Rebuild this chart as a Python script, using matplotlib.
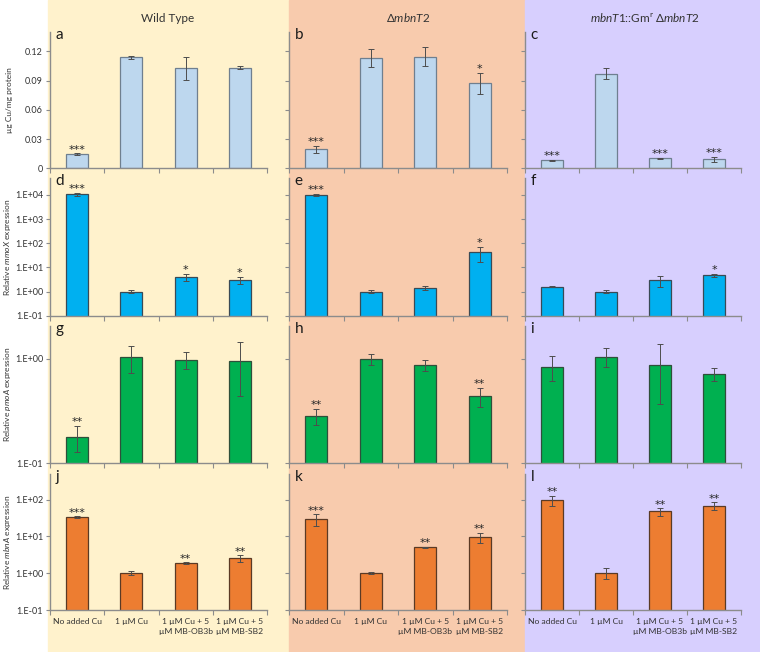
import numpy as np
import matplotlib
matplotlib.use('Agg')
import matplotlib.pyplot as plt
from matplotlib.patches import Rectangle
from matplotlib.ticker import FixedLocator, FuncFormatter, NullLocator

plt.rcParams['font.family'] = ['Lato', 'DejaVu Sans']
plt.rcParams['mathtext.fontset'] = 'custom'
plt.rcParams['mathtext.rm'] = 'Lato'
plt.rcParams['mathtext.it'] = 'Lato:italic'

categories = ['No added Cu', '1 µM Cu', '1 µM Cu + 5\nµM MB-OB3b', '1 µM Cu + 5\nµM MB-SB2']
strains = ['Wild Type', r'Δ$\it{mbnT2}$', r'$\it{mbnT1}$::Gm$^{\rm r}$ Δ$\it{mbnT2}$']

# copper uptake (ug Cu / mg protein)
cu_wt = [0.0147, 0.114, 0.1027, 0.1034]
cu_wt_err = [0.0008, 0.0018, 0.0116, 0.0018]
cu_t2 = [0.0195, 0.1133, 0.1147, 0.0873]
cu_t2_err = [0.0035, 0.0089, 0.0096, 0.0105]
cu_t1t2 = [0.0082, 0.0972, 0.0103, 0.0092]
cu_t1t2_err = [0.0006, 0.0055, 0.0006, 0.0028]

# relative mmoX expression
mmox_wt = [10700, 1.0, 4.1, 3.1]
mmox_wt_err = [1500, 0.15, 1.3, 1.0]
mmox_t2 = [10200, 1.0, 1.38, 44]
mmox_t2_err = [900, 0.12, 0.25, 28]
mmox_t1t2 = [1.6, 1.0, 3.0, 4.7]
mmox_t1t2_err = [0.03, 0.15, 1.5, 0.8]

# relative pmoA expression
pmoa_wt = [0.177, 1.03, 0.97, 0.94]
pmoa_wt_err = [0.05, 0.3, 0.18, 0.5]
pmoa_t2 = [0.283, 0.99, 0.865, 0.437]
pmoa_t2_err = [0.05, 0.12, 0.1, 0.09]
pmoa_t1t2 = [0.83, 1.045, 0.865, 0.71]
pmoa_t1t2_err = [0.22, 0.21, 0.5, 0.095]

# relative mbnA expression
mbna_wt = [33.6, 1.0, 1.88, 2.56]
mbna_wt_err = [2.0, 0.12, 0.12, 0.5]
mbna_t2 = [29.6, 1.0, 5.1, 9.6]
mbna_t2_err = [10, 0.05, 0.2, 2.8]
mbna_t1t2 = [98, 1.04, 48, 69.5]
mbna_t1t2_err = [30, 0.34, 11, 16]

stars = [
    [['***', '', '', ''], ['***', '', '', '*'], ['***', '', '***', '***']],
    [['***', '', '*', '*'], ['***', '', '', '*'], ['', '', '', '*']],
    [['**', '', '', ''], ['**', '', '', '**'], ['', '', '', '']],
    [['***', '', '**', '**'], ['***', '', '**', '**'], ['**', '', '**', '**']],
]

values = [
    [(cu_wt, cu_wt_err), (cu_t2, cu_t2_err), (cu_t1t2, cu_t1t2_err)],
    [(mmox_wt, mmox_wt_err), (mmox_t2, mmox_t2_err), (mmox_t1t2, mmox_t1t2_err)],
    [(pmoa_wt, pmoa_wt_err), (pmoa_t2, pmoa_t2_err), (pmoa_t1t2, pmoa_t1t2_err)],
    [(mbna_wt, mbna_wt_err), (mbna_t2, mbna_t2_err), (mbna_t1t2, mbna_t1t2_err)],
]

ylabels = ['µg Cu/mg protein', r'Relative $\it{mmoX}$ expression',
           r'Relative $\it{pmoA}$ expression', r'Relative $\it{mbnA}$ expression']
bar_colors = ['#BDD7EE', '#00B0F0', '#00B050', '#ED7D31']
edge_colors = ['#6F7F8F', '#3A4A55', '#2F4F3A', '#5A3A25']
ylims = [(0, 0.14), (0.1, 5e4), (0.1, 2.05), (0.1, 500)]
panel_letters = 'abcdefghijkl'

W, H = 760, 652
fig = plt.figure(figsize=(W / 100, H / 100), dpi=100)

# column backgrounds
bg_cols = ['#FFF2CC', '#F8CBAD', '#D7CFFE']
bg_x = [48, 289, 525, 760]
for k in range(3):
    fig.patches.append(Rectangle((bg_x[k] / W, 0), (bg_x[k + 1] - bg_x[k]) / W, 1,
                                 transform=fig.transFigure, color=bg_cols[k], zorder=-10))

col_left = [50, 289, 525]
col_w = [217, 218, 216]
row_top = [32, 178, 326, 474]
row_bot = [168.3, 315.7, 463.3, 610]

x = np.arange(4)
spine_c = '#8C8C8C'

for r in range(4):
    for c in range(3):
        ax = fig.add_axes([col_left[c] / W, 1 - row_bot[r] / H, col_w[c] / W,
                           (row_bot[r] - row_top[r]) / H])
        ax.patch.set_alpha(0)
        vals, errs = values[r][c]
        ax.bar(x, vals, width=0.41, color=bar_colors[r], edgecolor=edge_colors[r],
               linewidth=0.9, zorder=2)
        ax.errorbar(x, vals, yerr=errs, fmt='none', ecolor='#4D4D4D', elinewidth=0.7,
                    capsize=2, capthick=0.7, zorder=3)
        if r > 0:
            ax.set_yscale('log')
            ax.yaxis.set_minor_locator(NullLocator())
            ax.yaxis.set_major_formatter(FuncFormatter(
                lambda v, p: '1.E%+03d' % int(round(np.log10(v)))))
        else:
            ax.set_yticks([0, 0.03, 0.06, 0.09, 0.12])
            ax.yaxis.set_major_formatter(FuncFormatter(
                lambda v, p: '0' if v == 0 else ('%.2f' % v)))
        ax.set_ylim(*ylims[r])
        ax.set_xlim(-0.5, 3.5)

        for i in range(4):
            s = stars[r][c][i]
            if s:
                ax.annotate(s, (i, vals[i] + errs[i]), xytext=(0, -1),
                            textcoords='offset points', ha='center', va='bottom',
                            fontsize=8, color='#262626', family='DejaVu Sans')

        for side in ['top', 'right']:
            ax.spines[side].set_visible(False)
        for side in ['left', 'bottom']:
            ax.spines[side].set_color(spine_c)
            ax.spines[side].set_linewidth(1.0)

        ax.xaxis.set_major_locator(FixedLocator([-0.5, 0.5, 1.5, 2.5, 3.5]))
        ax.xaxis.set_major_formatter(FuncFormatter(lambda v, p: ''))
        ax.tick_params(axis='x', length=3.5, color=spine_c, width=0.8)
        ax.tick_params(axis='y', length=3, color=spine_c, width=0.8, labelsize=6.5,
                       pad=2, labelcolor='#333333')
        if c > 0:
            ax.set_yticklabels([])
        else:
            ax.set_ylabel(ylabels[r], fontsize=6, color='#333333')
            ax.yaxis.set_label_coords(-0.17, 0.5)

        if r == 3:
            ax.set_xticks(x, minor=True)
            ax.set_xticklabels(categories, minor=True, fontsize=6.1, color='#333333',
                               linespacing=1.45)
            ax.tick_params(axis='x', which='minor', length=0, pad=6)

        ax.text(0.025, 1.03, panel_letters[r * 3 + c], transform=ax.transAxes,
                ha='left', va='top', fontsize=11, color='#1A1A1A')

header_x = [168, 408, 645]
for c in range(3):
    fig.text(header_x[c] / W, 1 - 18 / H, strains[c], ha='center', va='center',
             fontsize=8.5, color='#333333')

fig.savefig('out.png', dpi=100)
